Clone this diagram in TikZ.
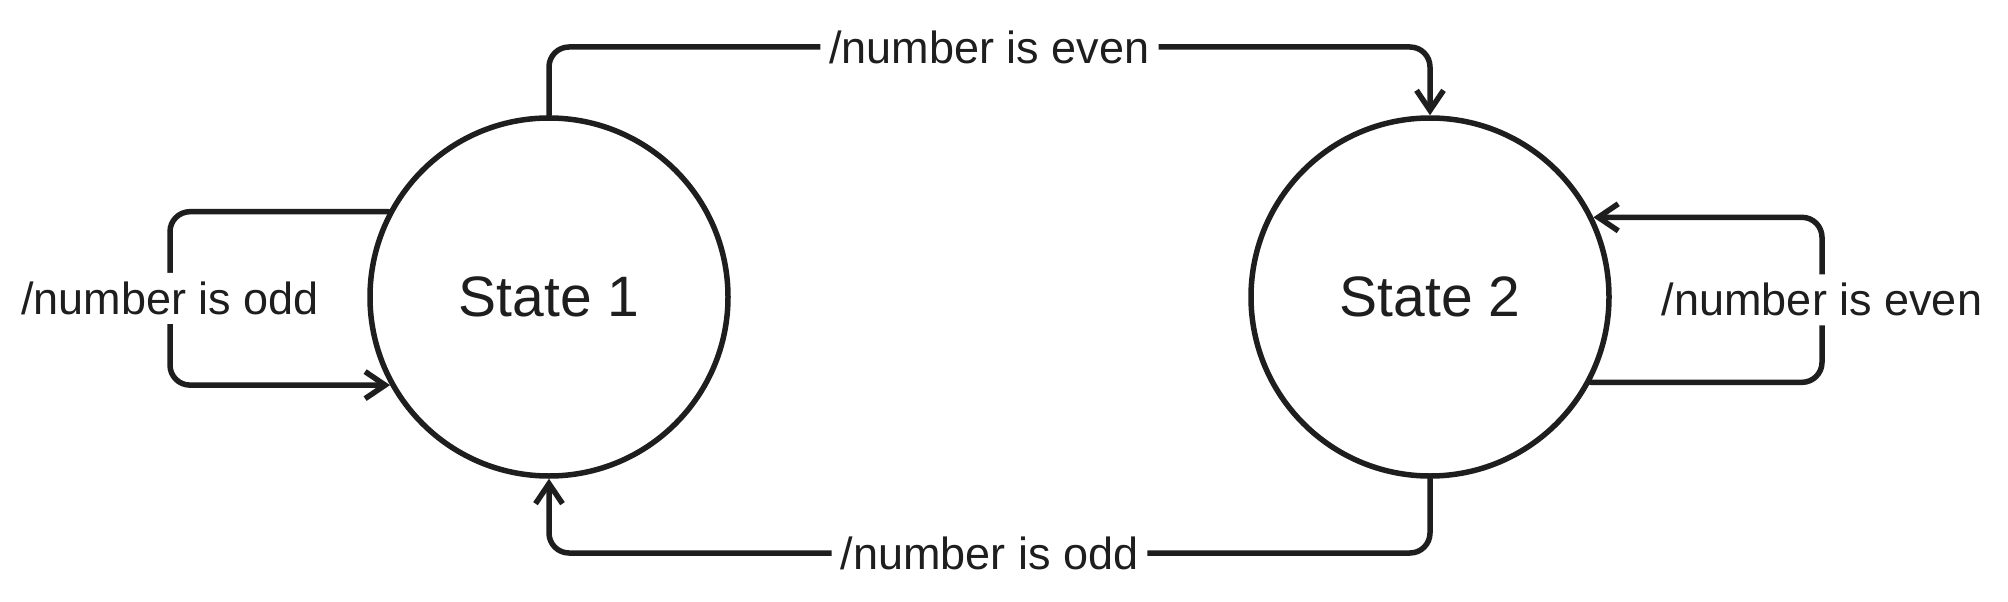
\documentclass[tikz,border=0pt]{standalone}
\usepackage{fontspec}
\setmainfont{Liberation Sans}
\usetikzlibrary{arrows.meta}
\definecolor{ink}{HTML}{1E1E1E}
\tikzset{
  statebox/.style={circle, draw=ink, line width=5.5pt, minimum size=358pt, inner sep=0pt,
    font=\fontsize{57}{66}\selectfont, text=ink},
  conn/.style={draw=ink, line width=5.5pt, rounded corners=20pt, line cap=round, line join=round},
  arr/.style={-{Straight Barb[length=20pt,width=27pt,line width=5.5pt]}},
  lbl/.style={fill=white, inner sep=9pt, font=\fontsize{45}{54}\selectfont, text=ink}
}
\begin{document}
\begin{tikzpicture}[x=1pt,y=-1pt]
\useasboundingbox (0,0) rectangle (2008,602);
\node[statebox] (s1) at (549,297) {State 1};
\node[statebox] (s2) at (1430,297) {State 2};
\coordinate (top) at (990,47);
\coordinate (bot) at (990,553);
\coordinate (lx) at (170,297);
\coordinate (rx) at (1822,297);
% top: State 1 -> State 2
\draw[conn,arr] (s1.north) -- (s1.north |- top) -- node[lbl]{/number is even} (s2.north |- top) -- (s2.north);
% bottom: State 2 -> State 1
\draw[conn,arr] (s2.south) -- (s2.south |- bot) -- node[lbl]{/number is odd} (s1.south |- bot) -- (s1.south);
% left self loop
\draw[conn,arr] (s1.152.4) -- (lx |- s1.152.4) -- node[lbl]{/number is odd} (lx |- s1.209) -- (s1.209);
% right self loop
\draw[conn,arr] (s2.332.4) -- (rx |- s2.332.4) -- node[lbl]{/number is even} (rx |- s2.26.2) -- (s2.26.2);
\end{tikzpicture}
\end{document}
